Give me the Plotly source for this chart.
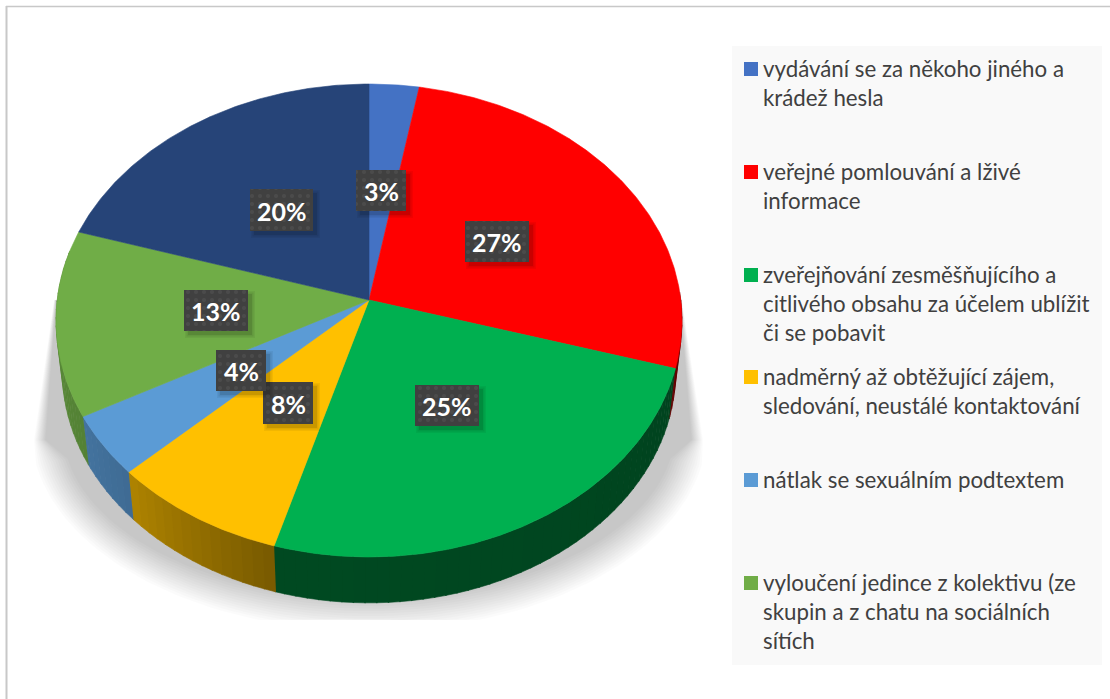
import numpy as np
import plotly.graph_objects as go

# ---- data ----
categories = [
    "vydávání se za někoho jiného a krádež hesla",
    "veřejné pomlouvání a lživé informace",
    "zveřejňování zesměšňujícího a citlivého obsahu za účelem ublížit či se pobavit",
    "nadměrný až obtěžující zájem, sledování, neustálé kontaktování",
    "nátlak se sexuálním podtextem",
    "vyloučení jedince z kolektivu (ze skupin a z chatu na sociálních sítích",
    "",
]
values = [2.8, 26.8, 24.9, 8.4, 4.2, 12.7, 20.2]
colors = ["#4472C4", "#FF0000", "#00B050", "#FFC000", "#5B9BD5", "#70AD47", "#264478"]
legend_lines = [
    ["vydávání se za někoho jiného a", "krádež hesla"],
    ["veřejné pomlouvání a lživé", "informace"],
    ["zveřejňování zesměšňujícího a", "citlivého obsahu za účelem ublížit", "či se pobavit"],
    ["nadměrný až obtěžující zájem,", "sledování, neustálé kontaktování"],
    ["nátlak se sexuálním podtextem"],
    ["vyloučení jedince z kolektivu (ze", "skupin a z chatu na sociálních", "sítích"],
]

# ---- layout of the pseudo-3D pie (pixels) ----
W, H = 1110, 699
CX, CY = 369, 300
RX, RY, K = 311.8, 234.7, 0.0867
DEPTH_Y, DEPTH_S = 51, 0.98
legend_y = [69, 172, 275, 377, 480, 583]
label_boxes = [(356, 406, 170, 211), (465, 529, 221, 262), (415, 479, 385, 426),
               (263, 313, 382, 424), (216, 266, 350, 391), (184, 248, 290, 331),
               (250, 313, 189, 231)]

def rim(theta, bottom=False):
    t = np.radians(theta)
    w = 1 + K * np.cos(t)
    x, y = RX * np.sin(t) / w, -RY * np.cos(t) / w
    if bottom:
        return CX + DEPTH_S * x, CY + DEPTH_Y + DEPTH_S * y
    return CX + x, CY + y

def shade(hexcol, f):
    r, g, b = (int(hexcol[i:i + 2], 16) for i in (1, 3, 5))
    return f"rgb({int(r * f)},{int(g * f)},{int(b * f)})"

fig = go.Figure()

def poly(x, y, color, line=None, **kw):
    fig.add_trace(go.Scatter(x=list(x), y=list(y), mode="lines", fill="toself", fillcolor=color,
                             line=dict(color=line or "rgba(0,0,0,0)", width=0.6 if line else 0),
                             hoverinfo="skip", showlegend=False, **kw))

# soft floor shadow: straight flared flanks, blurred lower curve, clipped at the floor edge
n_blur = 14
for i in range(n_blur):
    g = 16 - 32 * i / (n_blur - 1)
    a = np.radians(np.linspace(10, 170, 90))
    ex = CX + (322 + g) * np.cos(a)
    ey = np.minimum(430 + (185 + g) * np.sin(a), 620)
    side = 1.0 - (16 - g) * 0.35
    side_top = 1.0 - (16 - g) * 0.06
    xs = [CX + 312 + side_top, CX + 333 + side] + list(ex) + [CX - 334 - side, CX - 314 - side_top]
    ys = [300, 440] + list(ey) + [440, 300]
    poly(xs, ys, "rgba(0,0,0,0.0155)")

# side wall, back to front, banded to give the lighting gradient
cum = np.cumsum([0] + values) / sum(values) * 360
step = 2.0
for i, col in enumerate(colors):
    lo, hi = max(cum[i], 88), min(cum[i + 1], 282)
    if hi <= lo:
        continue
    edges = np.append(np.arange(lo, hi, step), hi)
    for a0, a1 in zip(edges[:-1], edges[1:]):
        am = np.linspace(a0, a1 + 0.2, 4)
        x0, y0 = rim(am)
        x1, y1 = rim(am[::-1], bottom=True)
        f = np.interp((a0 + a1) / 2, [90, 197, 228, 245, 282], [0.38, 0.42, 0.70, 0.76, 0.82])
        if col == "#FFC000":
            f = np.interp((a0 + a1) / 2, [196, 228], [0.47, 0.70])
        c = shade(col, f)
        poly(np.r_[x0, x1], np.r_[y0, y1], c, line=c)

# top face
for i, col in enumerate(colors):
    a = np.linspace(cum[i], cum[i + 1], max(int(cum[i + 1] - cum[i]) * 2, 8))
    x, y = rim(a)
    poly(np.r_[CX, x, CX], np.r_[CY, y, CY], col, line=col)

# data labels with drop shadow and dotted dark box
annotations = []
for v, (x0, x1, y0, y1) in zip(values, label_boxes):
    for g, al in ((5, 0.05), (3.5, 0.07), (2, 0.10)):
        poly([x0 + 6 - g, x1 + 2 + g, x1 + 2 + g, x0 + 6 - g, x0 + 6 - g],
             [y0 + 6 - g, y0 + 6 - g, y1 + 2 + g, y1 + 2 + g, y0 + 6 - g], f"rgba(0,0,0,{al})")
    fig.add_trace(go.Scatter(x=[x0, x1, x1, x0, x0], y=[y0, y0, y1, y1, y0], mode="lines", fill="toself",
                             fillcolor="#404040", line=dict(width=0, color="#404040"),
                             fillpattern=dict(shape=".", bgcolor="#404040", fgcolor="#555555",
                                              size=8, solidity=0.2),
                             hoverinfo="skip", showlegend=False))
    annotations.append(dict(x=(x0 + x1) / 2, y=(y0 + y1) / 2 + 0.5, text=f"<b>{round(v)}%</b>", showarrow=False,
                            xanchor="center", yanchor="middle",
                            font=dict(family="Lato", size=25, color="white")))

# legend
shapes = [
    dict(type="rect", x0=732, x1=1102, y0=46, y1=665, fillcolor="#F9F9F9", line_width=0, layer="below"),
    dict(type="line", x0=6.5, x1=6.5, y0=6, y1=699, line=dict(color="#C8C8C8", width=2), layer="below"),
    dict(type="line", x0=6, x1=1110, y0=6.5, y1=6.5, line=dict(color="#C8C8C8", width=1.5), layer="below"),
]
for lines, yc, col in zip(legend_lines, legend_y, colors):
    shapes.append(dict(type="rect", x0=744, x1=758, y0=yc - 7, y1=yc + 7, fillcolor=col, line_width=0))
    for j, txt in enumerate(lines):
        annotations.append(dict(x=761, y=yc - 1 + j * 29.3, text=txt, showarrow=False, xanchor="left", yanchor="middle",
                                font=dict(family="Lato", size=22.3, color="#404040")))

fig.update_layout(
    width=W, height=H, margin=dict(l=0, r=0, t=0, b=0),
    paper_bgcolor="white", plot_bgcolor="rgba(0,0,0,0)", showlegend=False,
    xaxis=dict(range=[0, W], visible=False, fixedrange=True),
    yaxis=dict(range=[H, 0], visible=False, fixedrange=True),
    shapes=shapes, annotations=annotations,
)
fig.write_html("out.html", config={"displayModeBar": False},
               post_script="document.body.style.margin='0';document.body.style.overflow='hidden';")
